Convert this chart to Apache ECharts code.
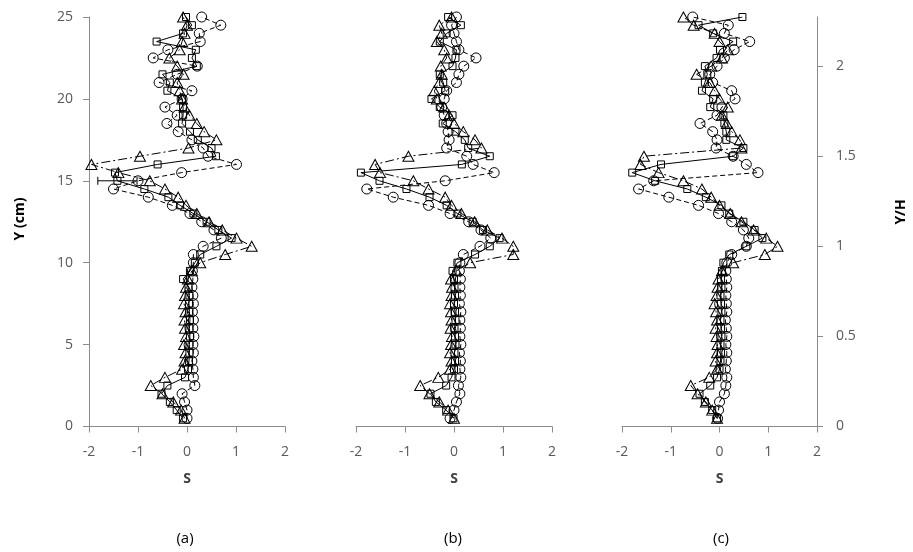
<!DOCTYPE html>
<html>
<head>
<meta charset="utf-8">
<script src="https://cdn.jsdelivr.net/npm/echarts@6/dist/echarts.min.js"></script>
<style>
html,body{margin:0;padding:0;background:#fff;}
#chart{width:913px;height:552px;}
</style>
</head>
<body>
<div id="chart"></div>
<script>
// Measurement heights Y (cm), bottom to top
const Y_CM = [0.5,1.0,1.5,2.0,2.5,3.0,3.5,4.0,4.5,5.0,5.5,6.0,6.5,7.0,7.5,8.0,8.5,9.0,9.5,10.0,
  10.5,11.0,11.5,12.0,12.5,13.0,13.5,14.0,14.5,15.0,15.5,16.0,16.5,17.0,17.5,18.0,18.5,19.0,19.5,20.0,
  20.5,21.0,21.5,22.0,22.5,23.0,23.5,24.0,24.5,25.0];

// Panel (a)
const A_SQUARE = [-0.08,-0.21,-0.35,-0.52,-0.40,-0.04,0.02,0.04,0.05,0.05,0.06,0.05,0.06,0.05,0.04,0.05,0.03,-0.08,0.06,0.16,
  0.27,0.60,0.91,0.64,0.40,0.13,-0.14,-0.38,-0.87,-1.42,-1.47,-0.60,0.59,0.50,0.22,0.06,-0.10,-0.08,-0.08,-0.10,
  -0.40,-0.35,-0.50,0.20,0.10,0.18,-0.62,-0.08,0.10,-0.02];
const A_TRIANGLE = [-0.05,-0.12,-0.28,-0.50,-0.74,-0.45,-0.10,-0.05,-0.03,-0.06,-0.02,-0.04,-0.05,-0.03,-0.06,-0.04,-0.02,0.02,0.10,0.27,
  0.78,1.32,1.01,0.72,0.45,0.20,-0.02,-0.18,-0.45,-0.76,-1.40,-1.95,-0.96,0.03,0.60,0.35,0.20,0.05,-0.05,-0.10,
  -0.15,-0.20,-0.07,-0.20,-0.36,-0.15,-0.10,-0.05,0.00,-0.08];
const A_CIRCLE = [0.00,0.00,-0.05,-0.10,0.16,0.13,0.12,0.10,0.13,0.12,0.14,0.12,0.13,0.11,0.13,0.12,0.10,0.12,0.11,0.13,
  0.13,0.33,0.70,0.55,0.30,0.06,-0.30,-0.79,-1.50,-1.00,-0.11,1.01,0.43,0.33,0.10,-0.18,-0.41,-0.20,-0.45,-0.10,
  0.10,-0.57,-0.20,0.21,-0.69,-0.39,0.27,0.25,0.69,0.30];

// Panel (b)
const B_SQUARE = [-0.01,-0.16,-0.37,-0.48,-0.16,-0.05,0.00,0.02,0.01,0.03,0.02,0.01,0.03,0.02,0.00,0.02,0.01,0.00,-0.03,0.07,
  0.43,0.73,0.93,0.59,0.38,0.07,-0.15,-0.50,-0.97,-1.52,-1.90,0.16,0.73,0.29,0.22,0.03,-0.23,-0.03,-0.29,-0.46,
  -0.18,-0.22,-0.29,-0.03,0.03,0.05,-0.29,-0.15,0.14,-0.12];
const B_TRIANGLE = [0.00,-0.12,-0.30,-0.50,-0.69,-0.32,-0.08,-0.05,-0.08,-0.06,-0.04,-0.07,-0.05,-0.06,-0.08,-0.05,-0.04,-0.06,0.05,0.33,
  1.21,1.21,0.98,0.68,0.42,0.15,-0.05,-0.18,-0.52,-0.83,-1.51,-1.61,-0.93,0.56,0.43,0.19,0.00,-0.10,-0.20,-0.35,
  -0.40,-0.30,-0.25,-0.27,-0.15,-0.20,-0.35,-0.25,-0.30,-0.05];
const B_CIRCLE = [-0.08,0.00,0.05,0.12,0.09,0.14,0.12,0.13,0.11,0.14,0.12,0.13,0.12,0.14,0.11,0.13,0.12,0.13,0.11,0.12,
  0.19,0.53,0.75,0.55,0.30,-0.08,-0.52,-1.24,-1.78,-0.18,0.82,0.39,0.26,-0.15,-0.10,-0.12,-0.15,-0.20,-0.25,-0.20,
  -0.15,0.05,0.10,0.20,0.45,0.10,0.05,0.00,-0.05,0.05];

// Panel (c)
const C_SQUARE = [-0.05,-0.15,-0.30,-0.41,-0.19,-0.05,0.00,0.02,0.03,0.02,0.04,0.03,0.02,0.04,0.03,0.02,0.04,0.03,0.05,0.08,
  0.20,0.55,0.88,0.72,0.49,0.20,0.04,-0.28,-0.66,-1.32,-1.79,-1.20,0.28,0.49,0.14,0.14,0.10,0.08,-0.19,-0.13,
  -0.36,-0.30,-0.25,-0.30,-0.06,0.01,0.28,-0.13,-0.43,0.47];
const C_TRIANGLE = [-0.05,-0.15,-0.28,-0.45,-0.59,-0.21,-0.05,-0.08,-0.05,-0.04,-0.06,-0.08,-0.05,-0.07,-0.10,-0.06,-0.04,-0.02,0.05,0.28,
  0.93,1.19,0.96,0.70,0.45,0.22,0.00,-0.17,-0.36,-0.74,-1.25,-1.62,-1.55,0.45,0.42,0.25,0.15,0.05,0.17,0.00,
  -0.10,-0.20,-0.47,-0.17,0.05,0.17,0.00,-0.10,-0.53,-0.74];
const C_CIRCLE = [-0.04,-0.02,0.00,0.10,0.13,0.15,0.12,0.14,0.15,0.13,0.15,0.14,0.12,0.15,0.14,0.13,0.15,0.14,0.13,0.15,
  0.25,0.55,0.60,0.49,0.25,-0.02,-0.43,-1.04,-1.66,-1.35,0.79,0.55,0.28,-0.07,-0.05,-0.14,-0.40,-0.05,0.05,0.32,
  0.25,-0.14,-0.20,-0.05,0.10,0.30,0.62,0.10,0.18,-0.55];

// Error bar on panel (a): [Y, S low, S high]
const A_ERRBAR = [[15.0, -1.82, -1.02]];

// Axis ticks
const S_TICKS = [-2, -1, 0, 1, 2];
const YCM_TICKS = [0, 5, 10, 15, 20, 25];
const YH_TICKS = [0, 0.5, 1, 1.5, 2];
const H_CM = 11;
const PANEL_LABELS = ['(a)', '(b)', '(c)'];

const FONT = 'Open Sans';
const AXIS_GREY = '#8c8c8c';
const LABEL_GREY = '#595959';

function pairs(sArr) { return sArr.map((s, i) => [s, Y_CM[i]]); }

function seriesSet(gridIdx, yIdx, sq, tr, ci) {
  const base = {
    type: 'line', xAxisIndex: gridIdx, yAxisIndex: yIdx, animation: false,
    itemStyle: { color: 'rgba(255,255,255,0)', borderColor: '#000', borderWidth: 1 },
    emphasis: { disabled: true }, z: 3
  };
  return [
    Object.assign({}, base, { data: pairs(sq), symbol: 'rect', symbolSize: 7,
      lineStyle: { color: '#000', width: 1, type: 'solid' } }),
    Object.assign({}, base, { data: pairs(ci), symbol: 'circle', symbolSize: 10,
      lineStyle: { color: '#000', width: 1, type: [5, 3] } }),
    Object.assign({}, base, { data: pairs(tr), symbol: 'triangle', symbolSize: [11, 10],
      lineStyle: { color: '#000', width: 1, type: [9, 3, 2, 3] } })
  ];
}

const grids = [
  { left: 89, top: 17, width: 196, height: 409.5 },
  { left: 356, top: 17, width: 196, height: 409.5 },
  { left: 622, top: 17, width: 195, height: 409.5 }
];

const xAxes = grids.map((g, i) => ({
  type: 'value', gridIndex: i, min: -2, max: 2, interval: 1,
  name: 'S', nameLocation: 'middle', nameGap: 46,
  nameTextStyle: { fontFamily: FONT, fontSize: 14, color: '#404040', fontWeight: 'bold' },
  axisLine: { show: true, onZero: false, lineStyle: { color: AXIS_GREY, width: 1 } },
  axisTick: { show: true, inside: false, length: 6, lineStyle: { color: AXIS_GREY },
    customValues: S_TICKS },
  axisLabel: { fontFamily: FONT, fontSize: 14, color: LABEL_GREY, margin: 19, customValues: S_TICKS },
  splitLine: { show: false }
}));

const yAxes = [
  { type: 'value', gridIndex: 0, min: 0, max: 25, interval: 5, position: 'left',
    axisLine: { show: true, onZero: false, lineStyle: { color: AXIS_GREY, width: 1 } },
    axisTick: { show: true, length: 6, lineStyle: { color: AXIS_GREY }, customValues: YCM_TICKS },
    axisLabel: { fontFamily: FONT, fontSize: 14, color: LABEL_GREY, margin: 16, customValues: YCM_TICKS },
    splitLine: { show: false } },
  { type: 'value', gridIndex: 1, min: 0, max: 25, show: false },
  { type: 'value', gridIndex: 2, min: 0, max: 25, show: false },
  { type: 'value', gridIndex: 2, min: 0, max: 25 / H_CM, position: 'right',
    axisLine: { show: true, onZero: false, lineStyle: { color: AXIS_GREY, width: 1 } },
    axisTick: { show: true, length: 6, lineStyle: { color: AXIS_GREY }, customValues: YH_TICKS },
    axisLabel: { fontFamily: FONT, fontSize: 14, color: LABEL_GREY, margin: 19, customValues: YH_TICKS },
    splitLine: { show: false } }
];

const series = [].concat(
  seriesSet(0, 0, A_SQUARE, A_TRIANGLE, A_CIRCLE),
  seriesSet(1, 1, B_SQUARE, B_TRIANGLE, B_CIRCLE),
  seriesSet(2, 2, C_SQUARE, C_TRIANGLE, C_CIRCLE),
  [{
    type: 'custom', xAxisIndex: 0, yAxisIndex: 0, animation: false, z: 4,
    data: A_ERRBAR, encode: { x: [1, 2], y: 0 },
    renderItem: function (params, api) {
      const y = api.value(0), lo = api.value(1), hi = api.value(2);
      const p1 = api.coord([lo, y]), p2 = api.coord([hi, y]);
      const st = { stroke: '#000', lineWidth: 1 };
      return { type: 'group', children: [
        { type: 'line', shape: { x1: p1[0], y1: p1[1], x2: p2[0], y2: p2[1] }, style: st },
        { type: 'line', shape: { x1: p1[0], y1: p1[1] - 4, x2: p1[0], y2: p1[1] + 4 }, style: st },
        { type: 'line', shape: { x1: p2[0], y1: p2[1] - 4, x2: p2[0], y2: p2[1] + 4 }, style: st }
      ] };
    }
  }]
);

const panelCenters = [185, 453, 721];
const graphic = [
  { type: 'text', x: 20, y: 219, rotation: Math.PI / 2,
    style: { text: 'Y (cm)', font: 'bold 14px "' + FONT + '"', fill: '#000', align: 'center', verticalAlign: 'middle' } },
  { type: 'text', x: 901, y: 212, rotation: Math.PI / 2,
    style: { text: 'Y/H', font: 'bold 14px "' + FONT + '"', fill: '#000', align: 'center', verticalAlign: 'middle' } }
].concat(PANEL_LABELS.map((t, i) => ({
  type: 'text', x: panelCenters[i], y: 539,
  style: { text: t, font: '15px "' + FONT + '"', fill: '#000', align: 'center', verticalAlign: 'middle' }
})));

const chart = echarts.init(document.getElementById('chart'), null, { renderer: 'canvas' });
chart.setOption({
  backgroundColor: '#ffffff',
  animation: false,
  grid: grids,
  xAxis: xAxes,
  yAxis: yAxes,
  series: series,
  graphic: graphic
});
</script>
</body>
</html>
